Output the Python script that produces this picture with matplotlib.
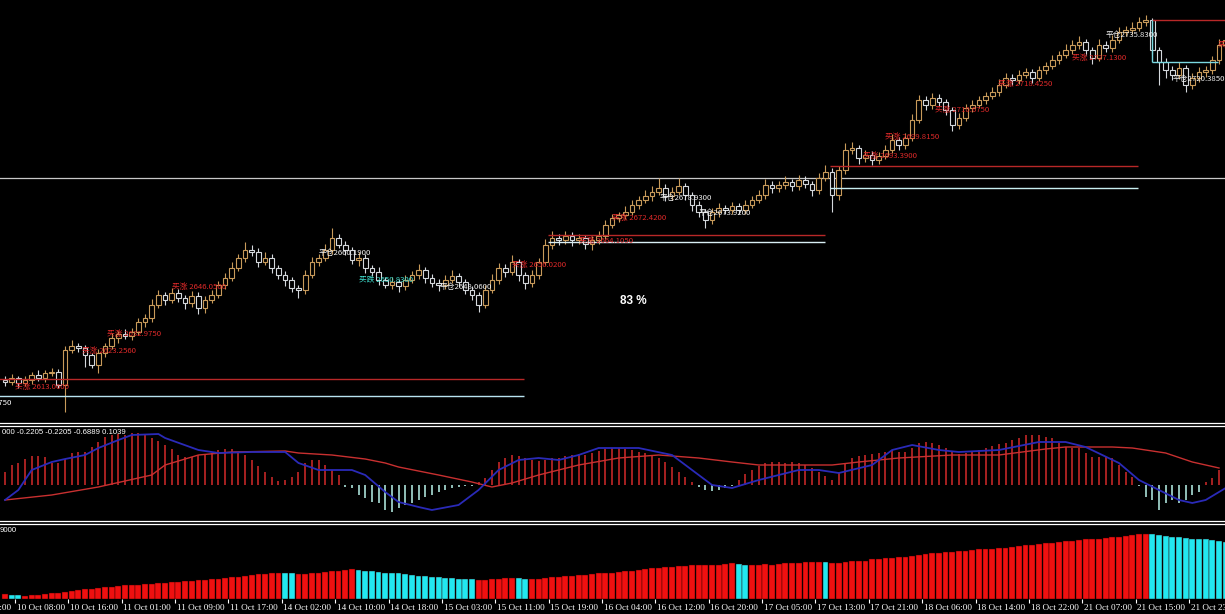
import matplotlib
matplotlib.use("Agg")
import matplotlib.pyplot as plt
from matplotlib.patches import Rectangle
import numpy as np

# ---------------- data ----------------
first_open = 2615.0
closes = [
    2614.2, 2615.6, 2613.9, 2614.9, 2616.6, 2615.6, 2617.3, 2617.7, 2613.2, 2625.2,
    2626.6, 2625.9, 2623.5, 2620.1, 2624.2, 2626.6, 2629.4, 2630.8, 2630.1, 2631.5,
    2634.9, 2636.3, 2640.8, 2644.2, 2642.5, 2644.9, 2643.2, 2641.5, 2643.9, 2639.7,
    2642.5, 2644.2, 2647.7, 2650.1, 2653.5, 2657.0, 2659.7, 2659.1, 2655.6, 2657.0,
    2653.5, 2651.1, 2649.4, 2646.6, 2645.9, 2651.1, 2655.6, 2657.0, 2659.7, 2663.9,
    2661.5, 2659.7, 2656.3, 2657.0, 2653.5, 2652.2, 2649.4, 2647.7, 2648.7, 2647.3,
    2649.4, 2651.1, 2652.8, 2650.1, 2648.4, 2647.7, 2649.4, 2650.8, 2648.7, 2645.9,
    2644.2, 2640.8, 2645.9, 2649.4, 2653.5, 2652.2, 2655.6, 2651.1, 2648.4, 2651.1,
    2655.6, 2661.5, 2663.9, 2663.2, 2664.6, 2663.2, 2663.9, 2661.8, 2663.2, 2664.6,
    2668.4, 2670.8, 2671.8, 2672.9, 2675.3, 2677.0, 2678.4, 2679.8, 2681.1, 2678.4,
    2679.8, 2681.8, 2678.7, 2675.3, 2672.9, 2670.1, 2672.9, 2674.2, 2673.5, 2674.9,
    2673.5, 2675.3, 2677.0, 2678.7, 2682.2, 2681.1, 2682.2, 2683.2, 2681.8, 2683.9,
    2682.5, 2680.4, 2684.6, 2686.7, 2678.7, 2687.3, 2694.2, 2694.9, 2691.5, 2692.5,
    2690.8, 2692.2, 2694.2, 2697.7, 2696.0, 2698.4, 2704.6, 2711.5, 2709.8, 2712.2,
    2710.8, 2708.0, 2702.9, 2705.3, 2708.7, 2709.8, 2711.5, 2712.9, 2714.3, 2716.7,
    2719.1, 2718.4, 2720.1, 2721.2, 2719.1, 2721.8, 2723.2, 2725.3, 2727.0, 2728.7,
    2730.5, 2731.5, 2728.7, 2726.0, 2730.5, 2729.4, 2732.2, 2735.0, 2735.6, 2736.3,
    2738.4, 2739.1, 2728.7, 2724.6, 2721.8, 2720.1, 2722.5, 2716.7, 2719.1, 2721.2,
    2721.8, 2725.3, 2730.5, 2732.2]
upper_wick = [
    1.2, 1.5, 0.8, 1.4, 1.0, 1.6, 0.9, 1.3, 1.0, 1.4,
    2.1, 1.2, 1.0, 0.8, 1.5, 1.2, 1.8, 1.0, 1.6, 1.3,
    1.5, 1.2, 2.0, 1.6, 1.0, 1.8, 1.4, 1.1, 1.7, 1.2,
    1.4, 1.9, 1.3, 1.6, 2.2, 1.5, 2.8, 1.6, 1.2, 1.9,
    1.3, 1.0, 1.5, 1.2, 0.9, 1.6, 1.8, 1.2, 2.0, 3.4,
    1.5, 1.3, 1.0, 2.2, 1.4, 1.1, 1.6, 1.0, 1.7, 1.2,
    1.8, 1.3, 2.0, 1.0, 1.4, 1.2, 1.6, 1.9, 1.1, 1.0,
    1.3, 1.2, 1.6, 2.0, 1.8, 1.3, 2.4, 1.2, 1.0, 1.6,
    1.5, 2.0, 2.4, 1.3, 1.8, 1.2, 1.5, 1.0, 1.4, 1.6,
    1.8, 1.5, 1.2, 2.0, 1.6, 1.4, 1.9, 2.2, 3.5, 1.3,
    1.6, 2.8, 1.2, 1.0, 1.4, 1.1, 1.5, 1.8, 1.0, 1.3,
    1.2, 1.6, 1.4, 1.8, 2.2, 1.3, 1.5, 2.0, 1.2, 1.6,
    1.4, 1.0, 1.8, 2.4, 1.2, 1.5, 2.5, 2.0, 1.2, 1.6,
    1.3, 1.5, 1.8, 2.0, 1.2, 1.6, 2.2, 1.7, 1.4, 1.8,
    1.5, 1.2, 1.0, 1.6, 1.4, 1.8, 1.5, 1.3, 1.6, 1.9,
    1.7, 1.2, 1.8, 1.5, 1.0, 1.6, 1.4, 1.7, 1.5, 2.0,
    1.8, 2.2, 1.2, 1.0, 1.9, 1.3, 1.6, 1.8, 1.5, 2.0,
    1.6, 1.7, 0.8, 1.0, 1.5, 1.4, 2.0, 1.2, 1.6, 1.8,
    1.5, 1.3, 2.0, 1.6]
lower_wick = [
    1.4, 1.0, 1.6, 1.2, 1.5, 0.9, 1.3, 1.1, 1.2, 9.3,
    1.0, 1.5, 4.1, 1.1, 2.8, 1.3, 1.0, 1.6, 1.2, 1.4,
    1.1, 1.6, 1.3, 1.0, 1.8, 1.2, 1.5, 2.0, 1.3, 2.2,
    1.6, 1.2, 1.0, 1.4, 1.2, 1.0, 1.3, 1.5, 1.8, 1.2,
    1.6, 1.4, 2.0, 1.3, 2.7, 1.2, 1.0, 1.4, 1.1, 1.3,
    1.2, 1.6, 1.4, 2.0, 1.8, 1.3, 1.6, 1.2, 1.5, 1.9,
    1.4, 1.0, 1.2, 1.8, 1.5, 2.0, 1.3, 1.1, 1.6, 1.4,
    1.8, 2.4, 1.2, 1.0, 1.4, 1.6, 1.2, 1.9, 2.2, 1.3,
    1.2, 1.0, 1.5, 1.8, 1.4, 2.2, 1.3, 1.6, 2.0, 1.4,
    1.2, 1.0, 1.5, 1.3, 1.1, 1.4, 1.2, 1.6, 1.0, 1.8,
    1.3, 1.2, 1.6, 2.0, 1.8, 2.8, 1.4, 1.6, 1.2, 1.5,
    1.3, 1.4, 1.2, 1.0, 1.5, 1.6, 1.2, 1.4, 1.8, 1.3,
    1.5, 2.0, 1.4, 1.2, 5.8, 1.6, 1.2, 1.5, 2.0, 1.4,
    1.8, 1.3, 1.2, 1.0, 1.6, 1.4, 1.2, 1.0, 1.8, 1.3,
    1.5, 1.6, 2.0, 1.4, 1.2, 1.3, 1.0, 1.5, 1.2, 1.4,
    1.2, 1.6, 1.3, 1.0, 1.8, 1.2, 1.4, 1.1, 1.3, 1.0,
    1.2, 1.4, 1.6, 2.0, 1.2, 1.5, 1.3, 1.0, 1.4, 1.2,
    1.1, 1.3, 1.5, 7.9, 2.6, 1.8, 1.2, 2.4, 1.5, 1.3,
    1.6, 1.2, 1.4, 1.0]

# order levels: price, first bar, last bar, colour
level_prices = [2615.2, 2609.4, 2664.9, 2662.5, 2688.7, 2681.1, 2739.1, 2724.6]
level_start = [-1, -1, 81.4, 81.4, 123.7, 123.7, 172.0, 172.0]
level_end = [77.8, 77.8, 122.9, 122.9, 169.9, 169.9, 184, 181.8]
level_colors = ["#b82828", "#b8e4f0", "#b82828", "#d8eef4", "#b82828", "#c8eef0", "#b82828", "#7ad8e0"]
bid_line = 2684.6

# trade labels: text, bar, price, colour
trade_text = ["买涨 2613.0600", "买涨 2623.2560", "买涨 2632.9750", "买涨 2646.0500",
              "平仓2660.1900", "买跌 2650.8300", "平仓2648.0600", "买涨 2656.0200",
              "买涨 2664.1050", "买涨 2672.4200", "平仓2678.9300", "平仓2673.9200",
              "买涨 2693.3900", "买涨 2699.8150", "买涨 2710.6750", "买涨 2718.4250",
              "买涨 2727.1300", "平仓2735.8300", "平仓2720.3850", "买涨 2730.5600"]
trade_bar = [1.5, 11.5, 15.3, 25.0, 47.0, 53.0, 65.2, 76.0, 86.0, 91.0, 98.2, 104.0,
             128.6, 132.0, 139.4, 148.9, 160.0, 165.0, 175.1, 181.9]
trade_price = [2612.5, 2624.9, 2630.8, 2647.0, 2658.7, 2649.7, 2647.0, 2654.6, 2662.9,
               2670.8, 2677.7, 2672.5, 2692.2, 2698.7, 2708.0, 2717.0, 2726.0, 2733.9,
               2718.7, 2730.5]
trade_color = ["r", "r", "r", "r", "w", "c", "w", "r", "r", "r", "w", "w",
               "r", "r", "r", "r", "r", "w", "w", "r"]

macd_hist = [
    1.3, 2.0, 2.2, 2.6, 2.9, 2.9, 2.8, 2.2, 2.2, 2.6,
    3.2, 3.3, 3.3, 3.8, 4.3, 4.8, 5.0, 5.1, 5.0, 5.2,
    5.2, 5.0, 4.7, 4.4, 4.0, 3.6, 3.0, 2.8, 2.8, 3.0,
    3.0, 3.2, 3.5, 3.6, 3.6, 3.3, 3.0, 2.5, 1.9, 1.3,
    0.8, 0.4, 0.5, 0.8, 1.3, 2.2, 2.5, 2.5, 2.0, 1.5,
    1.0, -0.2, -0.3, -1.0, -1.3, -1.7, -1.8, -2.5, -2.7, -2.3,
    -2.0, -1.8, -1.5, -1.2, -1.0, -0.7, -0.5, -0.3, -0.2, -0.1,
    -0.1, 0.3, 0.7, 1.5, 2.3, 2.7, 3.0, 2.9, 2.7, 2.5,
    2.4, 2.5, 2.7, 2.7, 2.9, 3.0, 3.1, 3.0, 3.2, 3.4,
    3.6, 3.7, 3.7, 3.6, 3.5, 3.3, 3.2, 3.0, 2.7, 2.3,
    1.8, 1.3, 0.8, 0.3, -0.2, -0.5, -0.6, -0.5, -0.3, -0.1,
    0.5, 1.1, 1.5, 1.9, 2.2, 2.3, 2.3, 2.2, 2.3, 2.2,
    2.0, 1.7, 1.3, 0.9, 0.5, 1.3, 2.2, 2.7, 2.9, 3.0,
    3.1, 3.2, 3.3, 3.5, 3.3, 3.3, 3.7, 4.2, 4.3, 4.2,
    4.0, 3.7, 3.3, 3.1, 3.2, 3.3, 3.5, 3.7, 3.9, 4.1,
    4.2, 4.5, 4.7, 5.0, 5.0, 5.0, 4.8, 4.7, 4.2, 3.8,
    3.7, 3.7, 3.2, 2.8, 2.8, 2.8, 2.7, 2.0, 1.3, 0.8,
    -0.1, -1.2, -1.5, -2.5, -1.8, -1.5, -1.8, -1.5, -1.0, -0.7,
    0.3, 0.7, 1.5, 2.0]
macd_blue_bars = [0, 2, 4, 7, 9, 12, 14, 17, 19, 23, 24, 29, 32, 37, 42, 44, 47, 52, 54, 57,
                  59, 62, 64, 68, 71, 74, 77, 80, 83, 86, 89, 95, 100, 103, 106, 109, 113, 119,
                  122, 125, 130, 133, 136, 140, 143, 149, 155, 159, 162, 167, 170, 173, 176,
                  178, 180, 183]
macd_blue = [-1.5, -0.5, 1.5, 2.3, 2.6, 3.0, 3.7, 4.5, 5.0, 5.1, 4.7, 3.5, 3.2, 3.3, 3.3, 2.2,
             1.5, 1.5, 1.0, -0.7, -1.7, -2.2, -2.5, -2.0, -0.5, 1.5, 2.5, 2.7, 2.5, 3.0, 3.7,
             3.7, 3.0, 1.5, 0.0, -0.3, 0.5, 1.5, 1.5, 1.2, 2.0, 3.5, 4.0, 3.5, 3.3, 3.5, 4.3,
             4.3, 3.8, 2.2, 0.5, -0.5, -1.5, -1.8, -1.5, -0.3]
macd_red_bars = [0, 7, 14, 22, 24, 29, 34, 42, 44, 49, 54, 57, 59, 65, 70, 73, 76, 80, 86, 92,
                 98, 104, 109, 113, 119, 124, 128, 134, 142, 149, 156, 159, 166, 169, 174, 178, 182]
macd_red = [-1.5, -1.0, -0.2, 1.0, 2.0, 3.0, 3.3, 3.4, 3.2, 3.0, 2.6, 2.2, 1.8, 1.0, 0.3, -0.2,
            0.2, 1.0, 2.0, 2.7, 3.0, 2.7, 2.3, 2.0, 2.0, 2.0, 2.3, 2.7, 3.0, 3.0, 3.6, 3.8, 3.8,
            3.7, 3.2, 2.3, 1.7]

lower_bars = [
    4.7, 3.7, 3.7, 3.0, 4.0, 4.3, 5.3, 6.3, 6.3, 7.0,
    8.0, 9.0, 9.7, 10.3, 11.3, 12.0, 12.0, 13.0, 13.7, 14.0,
    14.0, 14.7, 15.3, 16.3, 16.3, 17.0, 17.3, 18.0, 18.0, 18.7,
    19.0, 19.7, 20.3, 21.3, 22.0, 22.3, 23.0, 23.7, 24.7, 25.3,
    25.7, 26.3, 25.7, 25.7, 24.7, 25.3, 25.7, 26.3, 27.0, 28.0,
    28.0, 29.0, 29.7, 29.0, 28.0, 28.0, 27.3, 26.3, 25.7, 25.7,
    24.7, 24.0, 23.0, 23.0, 22.3, 22.0, 21.0, 21.0, 20.3, 19.7,
    19.7, 19.0, 19.0, 19.7, 20.3, 21.0, 21.0, 21.3, 20.3, 19.7,
    20.3, 21.0, 21.7, 22.3, 23.0, 23.0, 23.7, 24.3, 25.0, 25.7,
    25.7, 26.3, 27.0, 27.7, 28.3, 29.0, 29.7, 30.7, 31.0, 31.7,
    32.3, 33.0, 33.0, 33.7, 33.7, 33.7, 34.3, 34.3, 35.0, 35.7,
    34.7, 33.7, 33.7, 34.0, 34.7, 34.0, 34.7, 35.7, 35.7, 36.3,
    37.3, 37.0, 37.0, 37.0, 35.7, 36.3, 37.0, 37.7, 38.0, 38.3,
    39.7, 40.3, 41.0, 41.3, 42.0, 42.3, 43.0, 43.7, 44.7, 45.7,
    46.3, 47.0, 47.3, 48.0, 48.3, 49.0, 49.7, 50.0, 50.3, 50.7,
    51.3, 52.0, 53.0, 53.7, 54.3, 55.0, 55.7, 56.3, 57.0, 57.7,
    58.0, 59.0, 59.7, 60.0, 60.3, 61.0, 61.7, 62.3, 63.0, 63.7,
    64.7, 64.7, 64.7, 63.7, 63.0, 62.3, 62.3, 61.3, 60.3, 60.3,
    59.7, 59.0, 58.0, 57.0]
cyan_idx = [1, 2, 42, 43] + list(range(53, 71)) + [77, 78, 110, 111, 123] + list(range(172, 184))

time_labels = ["10 Oct 00:00", "10 Oct 08:00", "10 Oct 16:00", "11 Oct 01:00", "11 Oct 09:00",
               "11 Oct 17:00", "14 Oct 02:00", "14 Oct 10:00", "14 Oct 18:00", "15 Oct 03:00",
               "15 Oct 11:00", "15 Oct 19:00", "16 Oct 04:00", "16 Oct 12:00", "16 Oct 20:00",
               "17 Oct 05:00", "17 Oct 13:00", "17 Oct 21:00", "18 Oct 06:00", "18 Oct 14:00",
               "18 Oct 22:00", "21 Oct 07:00", "21 Oct 15:00", "21 Oct 23:00"]
time_bars = [-6, 2, 10, 18, 26, 34, 42, 50, 58, 66, 74, 82, 90, 98, 106, 114, 122, 130,
             138, 146, 154, 162, 170, 178]

# ---------------- figure ----------------
W, H = 1225, 614
fig = plt.figure(figsize=(W / 100, H / 100), dpi=100, facecolor="black")
cjk = ["Noto Sans CJK SC", "DejaVu Sans"]
XLIM = (-0.75, 182.9)


def panel(top, bottom):
    a = fig.add_axes([0, 1 - bottom / H, 1, (bottom - top) / H])
    a.set_facecolor("black")
    a.set_xlim(*XLIM)
    a.axis("off")
    return a


ax = panel(0, 421)
ax.set_ylim(2600.75, 2746)
ax_macd = panel(426, 520)
ax_macd.set_ylim(-3.5, 5.9)
ax_low = panel(523, 599)
ax_low.set_ylim(0, 76)
ax_time = panel(599, 614)
ax_time.set_ylim(0, 15)

# separators between windows (double white lines)
for y in [422.5, 425.5, 520.5, 523.5]:
    fig.add_artist(plt.Line2D([0, 1], [1 - y / H, 1 - y / H], color="white", lw=0.9,
                              transform=fig.transFigure))

# candles
opens = [first_open] + closes[:-1]
for i in range(len(closes)):
    o, c = opens[i], closes[i]
    hi = max(o, c) + upper_wick[i]
    lo = min(o, c) - lower_wick[i]
    col = "#c89a5a" if c >= o else "#d4d8dc"
    ax.vlines(i, lo, hi, color=col, lw=0.8, zorder=2)
    ax.add_patch(Rectangle((i - 0.35, min(o, c)), 0.7, max(abs(c - o), 0.15),
                           facecolor="black", edgecolor=col, lw=0.8, zorder=3))

# levels
ax.axhline(bid_line, color="#c8c8c8", lw=0.9, zorder=1)
for p, s, e, col in zip(level_prices, level_start, level_end, level_colors):
    ax.hlines(p, s, e, color=col, lw=1.0, zorder=4)
ax.vlines(level_start[-1], level_prices[-1], level_prices[-2], color=level_colors[-1], lw=1.0, zorder=4)

cmap = {"r": "#e02a2a", "w": "#f0f0f0", "c": "#3ee0d0"}
for t, b, p, c in zip(trade_text, trade_bar, trade_price, trade_color):
    ax.text(b, p, t, color=cmap[c], fontsize=5.6, family=cjk, va="center", ha="left", zorder=6)
ax.text(1.05, 2607.0, "平仓2606.0750", color="white", fontsize=5.6, family=cjk,
        va="center", ha="right", zorder=6)
ax.text(94.2, 2642.2, "83 %", color="white", fontsize=8.5, fontweight="bold",
        family="Liberation Sans", ha="center", va="center", zorder=6)

# MACD window
for i, v in enumerate(macd_hist):
    ax_macd.vlines(i, 0, v, color="#d42a2a" if v >= 0 else "#b8f4ea", lw=1.1)
ax_macd.plot(macd_red_bars, macd_red, color="#c83030", lw=1.0)
ax_macd.plot(macd_blue_bars, macd_blue, color="#2a2ab8", lw=1.3)
ax_macd.text(0.002, 0.93, "000 -0.2205 -0.2205 -0.6889 0.1039", transform=ax_macd.transAxes,
             color="white", fontsize=5.6, family="Liberation Sans", va="center", ha="left")

# lower window
bar_cols = ["#22e8f0" if i in cyan_idx else "#f01010" for i in range(len(lower_bars))]
ax_low.bar(np.arange(len(lower_bars)), lower_bars, width=0.88, color=bar_cols,
           edgecolor="#300000", linewidth=0.3)
ax_low.text(0.0, 0.9, "9000", transform=ax_low.transAxes, color="white", fontsize=5.6,
            family="Liberation Sans", va="center", ha="left")

# time scale
for b, lab in zip(time_bars, time_labels):
    ax_time.vlines(b - 0.5, 11, 15, color="white", lw=0.8)
    ax_time.text(b - 0.25, 6.5, lab, color="white", fontsize=6.6, family="Liberation Serif",
                 va="center", ha="left", clip_on=True)

fig.savefig("out.png", dpi=100, facecolor="black")
